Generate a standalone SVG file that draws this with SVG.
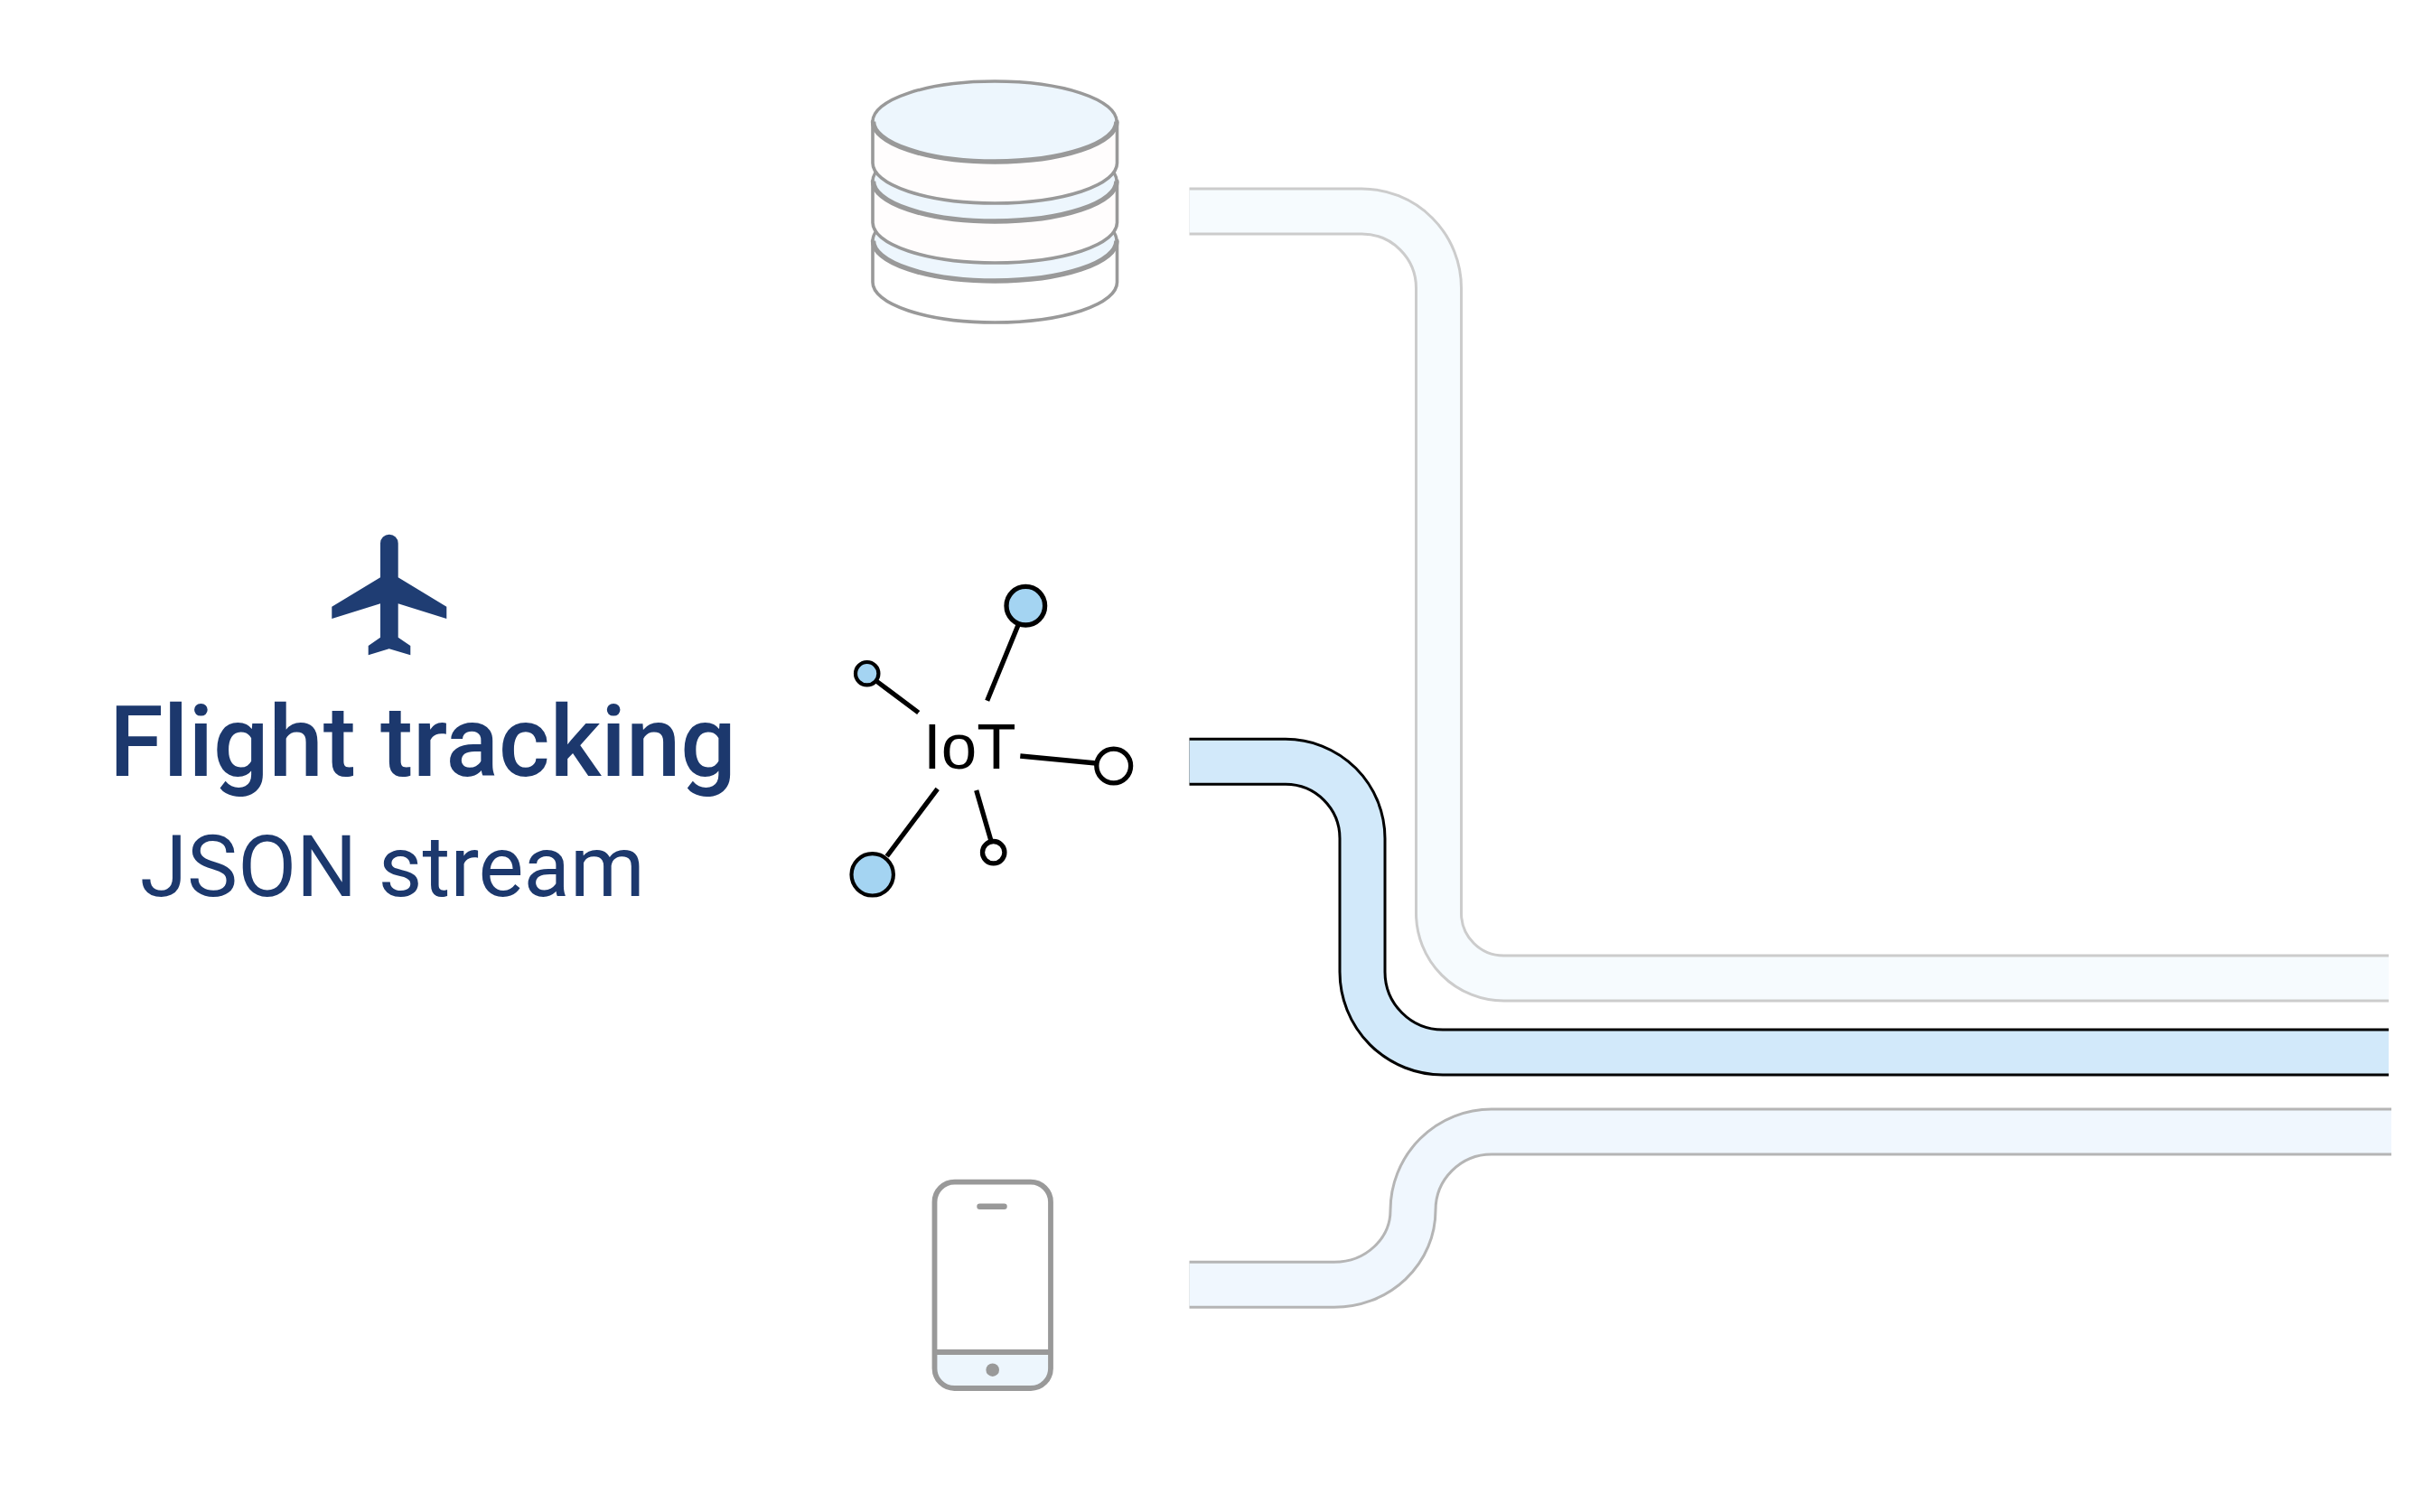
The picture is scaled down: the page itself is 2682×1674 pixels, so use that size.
<svg xmlns="http://www.w3.org/2000/svg" width="2682" height="1674" viewBox="0 0 2682 1674">
<style>
.edge,.core{fill:none;stroke-linecap:butt}
.edge{stroke-width:53}
.core{stroke-width:47}
.g{fill:#999;stroke:none}
.body{fill:#fffdfd;stroke:#999;stroke-width:3.6}
.lid{fill:#edf6fd;stroke:#999;stroke-width:3.4}
.rim{fill:none;stroke:#999;stroke-width:5.5}
.spoke{stroke:#000;stroke-width:5.3;fill:none}
.hub{stroke:#000;stroke-width:5.3}
.on{fill:#a4d4f2}
.off{fill:#fff}
.ph{fill:none;stroke:#999;stroke-width:5.8}
.title{font-family:Roboto,"Liberation Sans",sans-serif;fill:#1c386d}
</style>
<rect width="2682" height="1674" fill="#fff"/>
<g id="connectors">
<g id="connector-db">
<path class="edge" stroke="#ccc" d="M1316.5,234 H1507.5 A85,85 0 0 1 1592.5,319 V1011 A72,72 0 0 0 1664.5,1083 H2644"/>
<path class="core" stroke="#f6fbfe" d="M1316.5,234 H1507.5 A85,85 0 0 1 1592.5,319 V1011 A72,72 0 0 0 1664.5,1083 H2644"/>
</g>
<g id="connector-iot">
<path class="edge" stroke="#000" d="M1316.5,843.3 H1423 A85,85 0 0 1 1508,928.3 V1076 A89,89 0 0 0 1597,1165 H2644"/>
<path class="core" stroke="#d2e9fa" d="M1316.5,843.3 H1423 A85,85 0 0 1 1508,928.3 V1076 A89,89 0 0 0 1597,1165 H2644"/>
</g>
<g id="connector-phone">
<path class="edge" stroke="#b5b5b5" d="M1316.5,1422.3 H1477 A87,82.3 0 0 0 1564,1340 A87,87 0 0 1 1651,1253 H2647"/>
<path class="core" stroke="#f0f7fe" d="M1316.5,1422.3 H1477 A87,82.3 0 0 0 1564,1340 A87,87 0 0 1 1651,1253 H2647"/>
</g>
</g>
<g id="database">
<path class="body" style="fill:#fff" d="M966,266.5 V312.5 A135.25,44.5 0 0 0 1236.5,312.5 V266.5 Z"/>
<ellipse class="lid" cx="1101" cy="266.5" rx="135" ry="44.5"/>
<path class="rim" d="M966.5,266.5 A134.75,44.5 0 0 0 1236,266.5"/>
<path class="body" d="M966,200.5 V246.5 A135.25,44.5 0 0 0 1236.5,246.5 V200.5 Z"/>
<ellipse class="lid" cx="1101" cy="200.5" rx="135" ry="44.5"/>
<path class="rim" d="M966.5,200.5 A134.75,44.5 0 0 0 1236,200.5"/>
<path class="body" d="M966,134.5 V180.5 A135.25,44.5 0 0 0 1236.5,180.5 V134.5 Z"/>
<ellipse class="lid" cx="1101" cy="134.5" rx="135" ry="44.5"/>
<path class="rim" d="M966.5,134.5 A134.75,44.5 0 0 0 1236,134.5"/>
</g>
<g id="iot">
<path class="spoke" d="M1127,692 L1092.7,775.7 M970,754 L1016.7,789 M1213.3,845 L1129.3,837 M1096.7,930 L1080.7,875 M981.7,948 L1037.7,873.3"/>
<circle class="hub on" cx="1135.3" cy="670.7" r="21.3"/>
<circle class="hub on" cx="959.7" cy="745.7" r="12.7" style="stroke-width:4.2"/>
<circle class="hub off" cx="1232.7" cy="848" r="18.9"/>
<circle class="hub off" cx="1099.7" cy="943.7" r="12.2"/>
<circle class="hub on" cx="965.7" cy="968.3" r="23.2" style="stroke-width:4.2"/>
<text x="1022" y="851" font-family="'Liberation Sans',Arial,sans-serif" font-size="71" fill="#000">IoT</text>
</g>
<g id="flight-tracking">
<path fill="#1f3d73" d="M421,601.5 A9.85,9.85 0 0 1 440.7,601.5 V639.3 L494.3,671.7 V685 L440.7,668.3 V705.7 L454.3,715 V725.3 L430.7,718.3 L407.7,725.3 V715 L421,705.7 V668.3 L367.3,685 V671.7 L421,639.3 Z"/>
<text class="title" x="121" y="859.3" font-size="108.5" font-weight="500">Flight tracking</text>
<text class="title" x="155" y="992.3" font-size="94.4">JSON stream</text>
</g>
<g id="phone">
<path d="M1034.5,1497 H1163 V1515 A22,22 0 0 1 1141,1537 H1056.5 A22,22 0 0 1 1034.5,1515 Z" fill="#edf6fd"/>
<rect class="ph" x="1034.5" y="1308.7" width="128.5" height="228.3" rx="22" ry="22"/>
<path class="ph" d="M1034.5,1497 H1163"/>
<path d="M1084.5,1335.8 H1111.5" fill="none" stroke="#999" stroke-width="6.5" stroke-linecap="round"/>
<circle class="g" cx="1098.7" cy="1516.7" r="7.3"/>
</g>
</svg>
